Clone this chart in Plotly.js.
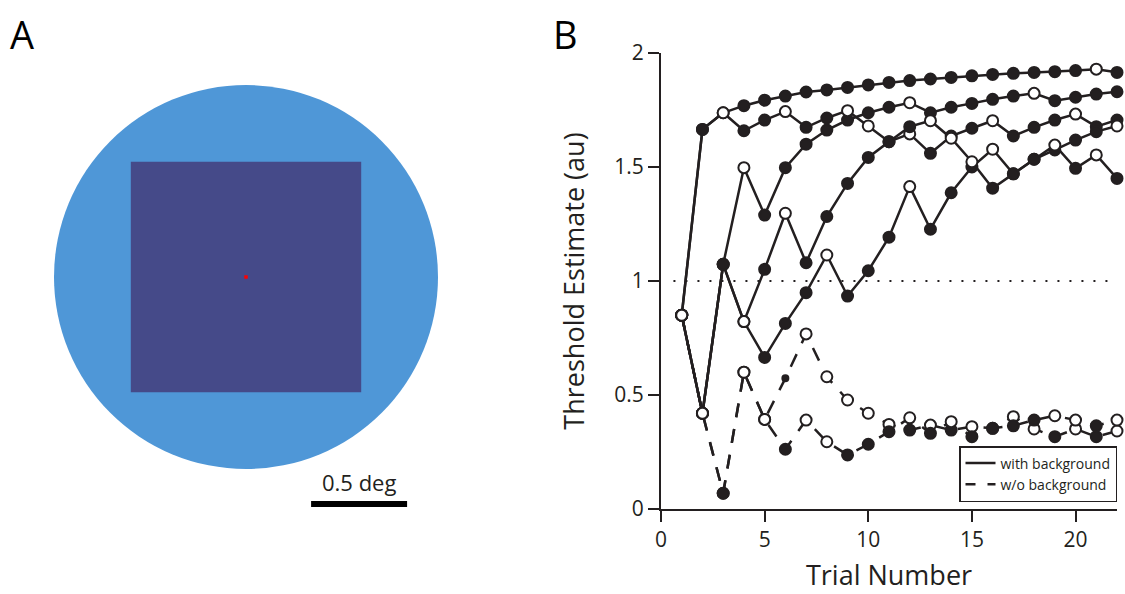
<!DOCTYPE html>
<html>
<head>
<meta charset="utf-8">
<script src="https://cdn.plot.ly/plotly-3.0.1.min.js"></script>
<style>
  html, body { margin: 0; padding: 0; background: #ffffff; }
  #chart { width: 1125px; height: 594px; }
</style>
</head>
<body>
<div id="chart"></div>
<script>
// ---- trial axis ----
const trials = [1, 2, 3, 4, 5, 6, 7, 8, 9, 10, 11, 12, 13, 14, 15, 16, 17, 18, 19, 20, 21, 22];
const xTickVals = [0, 5, 10, 15, 20];
const yTickVals = [0, 0.5, 1, 1.5, 2];
const yTickText = ['0', '0.5', '1', '1.5', '2'];
const referenceLevel = 1;

// ---- staircases with background (estimate per trial, 1 = filled marker, 0 = open marker) ----
const bgRun1 = [0.85, 1.665, 1.738, 1.769, 1.793, 1.811, 1.829, 1.838, 1.849, 1.86, 1.871, 1.879, 1.886, 1.893, 1.900, 1.906, 1.911, 1.915, 1.918, 1.923, 1.929, 1.915];
const bgRun1Filled = [0, 1, 0, 1, 1, 1, 1, 1, 1, 1, 1, 1, 1, 1, 1, 1, 1, 1, 1, 1, 0, 1];

const bgRun2 = [0.85, 1.665, 1.738, 1.659, 1.706, 1.743, 1.674, 1.715, 1.747, 1.68, 1.611, 1.677, 1.703, 1.626, 1.523, 1.407, 1.47, 1.534, 1.596, 1.494, 1.553, 1.45];
const bgRun2Filled = [0, 1, 0, 1, 1, 0, 1, 1, 0, 0, 1, 1, 0, 0, 0, 1, 1, 1, 0, 1, 0, 1];

const bgRun3 = [0.85, 0.42, 1.073, 1.497, 1.289, 1.497, 1.60, 1.662, 1.706, 1.738, 1.762, 1.782, 1.738, 1.762, 1.779, 1.797, 1.811, 1.823, 1.791, 1.806, 1.82, 1.83];
const bgRun3Filled = [0, 0, 1, 0, 1, 1, 1, 1, 1, 1, 1, 0, 1, 1, 1, 1, 1, 0, 1, 1, 1, 1];

const bgRun4 = [0.85, 0.42, 1.073, 0.822, 0.665, 0.814, 0.949, 1.114, 0.934, 1.045, 1.192, 1.414, 1.227, 1.387, 1.50, 1.578, 1.47, 1.534, 1.575, 1.618, 1.655, 1.68];
const bgRun4Filled = [0, 0, 1, 0, 1, 1, 1, 0, 1, 1, 1, 0, 1, 1, 1, 0, 1, 1, 1, 1, 1, 0];

const bgRun5 = [0.85, 0.42, 1.073, 0.822, 1.051, 1.297, 1.08, 1.283, 1.428, 1.542, 1.611, 1.645, 1.56, 1.636, 1.67, 1.703, 1.636, 1.674, 1.706, 1.732, 1.677, 1.706];
const bgRun5Filled = [0, 0, 1, 0, 1, 0, 1, 1, 1, 1, 1, 0, 1, 1, 1, 0, 1, 1, 1, 0, 1, 1];

// ---- staircases without background ----
const noBgRun1 = [0.85, 0.42, 0.069, 0.60, 0.393, 0.573, 0.768, 0.58, 0.478, 0.42, 0.371, 0.346, 0.368, 0.346, 0.361, 0.354, 0.405, 0.351, 0.317, 0.351, 0.317, 0.342];
const noBgRun1Filled = [0, 0, 1, 0, 0, 1, 0, 0, 0, 0, 0, 1, 0, 1, 0, 1, 0, 0, 1, 0, 1, 0];

const noBgRun2 = [0.85, 0.42, 0.069, 0.60, 0.393, 0.262, 0.39, 0.295, 0.237, 0.284, 0.339, 0.40, 0.332, 0.383, 0.317, 0.354, 0.365, 0.39, 0.409, 0.39, 0.365, 0.39];
const noBgRun2Filled = [0, 0, 1, 0, 0, 1, 0, 0, 1, 1, 1, 0, 1, 0, 1, 1, 1, 1, 0, 0, 1, 0];

// ---- stimulus geometry (degrees of visual angle) ----
const surroundRadiusDeg = 1.0;
const targetHalfWidthDeg = 0.6;
const fixationHalfDeg = 0.009;
const scaleBarDeg = 0.5;

// ---- styling ----
const INK = '#231f20';
const FONT = 'Open Sans, Noto Sans, sans-serif';
const W = 1125, H = 594;
const MARKER_SIZE = 11;

// pixel frame of the staircase plot
const plotLeft = 661, plotRight = 1117, plotTop = 53, plotBottom = 509;
// pixel frame of the stimulus drawing (1 deg = 192 px, centred at 246, 277)
const degPx = 192, stimCx = 246, stimCy = 277;
const stimLeft = 0, stimRight = 460, stimTop = 40, stimBottom = 560;

function markerColors(flags) {
  return flags.map(f => (f ? INK : '#ffffff'));
}

function runTrace(values, flags, dash, sizes) {
  return {
    type: 'scatter',
    mode: 'lines+markers',
    x: trials,
    y: values,
    xaxis: 'x',
    yaxis: 'y',
    cliponaxis: false,
    showlegend: false,
    hoverinfo: 'skip',
    line: { color: INK, width: 2.5, dash: dash },
    marker: {
      symbol: 'circle',
      size: sizes || MARKER_SIZE,
      opacity: 1,
      color: markerColors(flags),
      line: { color: INK, width: 2 }
    }
  };
}

const DASH = '14px,12px';

// the one smaller estimate marker on the first no-background run
const noBgRun1Sizes = noBgRun1.map((_, i) => (i === 5 ? 6 : MARKER_SIZE));

const traces = [
  runTrace(noBgRun1, noBgRun1Filled, DASH, noBgRun1Sizes),
  runTrace(noBgRun2, noBgRun2Filled, DASH),
  runTrace(bgRun1, bgRun1Filled, 'solid'),
  runTrace(bgRun5, bgRun5Filled, 'solid'),
  runTrace(bgRun4, bgRun4Filled, 'solid'),
  runTrace(bgRun3, bgRun3Filled, 'solid'),
  runTrace(bgRun2, bgRun2Filled, 'solid'),
  // legend entries
  {
    type: 'scatter', mode: 'lines', x: [null], y: [null], xaxis: 'x', yaxis: 'y',
    name: 'with background', line: { color: INK, width: 2.5 }, hoverinfo: 'skip'
  },
  {
    type: 'scatter', mode: 'lines', x: [null], y: [null], xaxis: 'x', yaxis: 'y',
    name: 'w/o background', line: { color: INK, width: 2.5, dash: '10px,12px' }, hoverinfo: 'skip'
  },
  // anchor for the stimulus subplot
  {
    type: 'scatter', mode: 'markers', x: [null], y: [null], xaxis: 'x2', yaxis: 'y2',
    showlegend: false, hoverinfo: 'skip'
  }
];

const axisCommon = {
  showgrid: false,
  zeroline: false,
  showline: true,
  linecolor: INK,
  linewidth: 2,
  ticks: 'outside',
  ticklen: 11,
  tickwidth: 2,
  tickcolor: INK,
  tickfont: { family: FONT, size: 21, color: INK },
  fixedrange: true
};

const layout = {
  width: W,
  height: H,
  margin: { l: 0, r: 0, t: 0, b: 0, pad: 0 },
  paper_bgcolor: '#ffffff',
  plot_bgcolor: 'rgba(0,0,0,0)',
  font: { family: FONT, color: INK },
  xaxis: Object.assign({}, axisCommon, {
    domain: [plotLeft / W, plotRight / W],
    range: [0, 22],
    tickvals: xTickVals,
    anchor: 'y',
    title: { text: 'Trial Number', font: { family: FONT, size: 27, color: INK }, standoff: 14 }
  }),
  yaxis: Object.assign({}, axisCommon, {
    domain: [(H - plotBottom) / H, (H - plotTop) / H],
    range: [0, 2],
    tickvals: yTickVals,
    ticktext: yTickText,
    anchor: 'x',
    title: { text: 'Threshold Estimate (au)', font: { family: FONT, size: 27, color: INK }, standoff: 22 }
  }),
  xaxis2: {
    domain: [stimLeft / W, stimRight / W],
    range: [(stimLeft - stimCx) / degPx, (stimRight - stimCx) / degPx],
    visible: false, fixedrange: true, anchor: 'y2'
  },
  yaxis2: {
    domain: [(H - stimBottom) / H, (H - stimTop) / H],
    range: [(stimCy - stimBottom) / degPx, (stimCy - stimTop) / degPx],
    visible: false, fixedrange: true, anchor: 'x2'
  },
  showlegend: true,
  legend: {
    x: plotRight / W,
    xanchor: 'right',
    y: (H - 502) / H,
    yanchor: 'bottom',
    bgcolor: '#ffffff',
    bordercolor: INK,
    borderwidth: 1.5,
    font: { family: FONT, size: 14, color: INK },
    tracegroupgap: 0
  },
  shapes: [
    // reference level
    {
      type: 'line', xref: 'x', yref: 'y', layer: 'below',
      x0: 0.6, x1: 22, y0: referenceLevel, y1: referenceLevel,
      line: { color: INK, width: 2, dash: '2px,10px' }
    },
    // surround disc
    {
      type: 'circle', xref: 'x2', yref: 'y2',
      x0: -surroundRadiusDeg, x1: surroundRadiusDeg, y0: -surroundRadiusDeg, y1: surroundRadiusDeg,
      fillcolor: '#4f97d7', line: { width: 0 }
    },
    // central square
    {
      type: 'rect', xref: 'x2', yref: 'y2',
      x0: -targetHalfWidthDeg, x1: targetHalfWidthDeg, y0: -targetHalfWidthDeg, y1: targetHalfWidthDeg,
      fillcolor: '#454a89', line: { width: 0 }
    },
    // fixation point
    {
      type: 'rect', xref: 'x2', yref: 'y2',
      x0: -fixationHalfDeg, x1: fixationHalfDeg, y0: -fixationHalfDeg, y1: fixationHalfDeg,
      fillcolor: '#ff0000', line: { width: 0 }
    },
    // scale bar
    {
      type: 'line', xref: 'x2', yref: 'y2',
      x0: 0.339, x1: 0.339 + scaleBarDeg, y0: -1.182, y1: -1.182,
      line: { color: '#000000', width: 6 }
    }
  ],
  annotations: [
    {
      xref: 'x2', yref: 'y2', x: 0.339 + scaleBarDeg / 2, y: -1.182,
      yanchor: 'bottom', yshift: 5, showarrow: false,
      text: '0.5 deg', font: { family: FONT, size: 22, color: INK }
    },
    {
      xref: 'paper', yref: 'paper', x: 8 / W, y: 1 - 6 / H,
      xanchor: 'left', yanchor: 'top', showarrow: false,
      text: 'A', font: { family: FONT, size: 38, color: '#000000' }
    },
    {
      xref: 'paper', yref: 'paper', x: 551 / W, y: 1 - 6 / H,
      xanchor: 'left', yanchor: 'top', showarrow: false,
      text: 'B', font: { family: FONT, size: 38, color: '#000000' }
    }
  ]
};

Plotly.newPlot('chart', traces, layout, { staticPlot: true, displayModeBar: false });
</script>
</body>
</html>
